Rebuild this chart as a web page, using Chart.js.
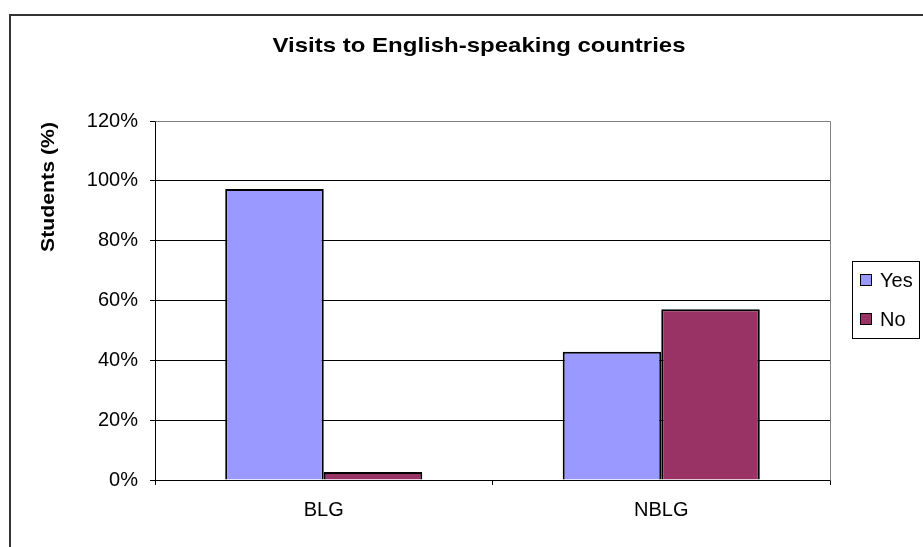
<!DOCTYPE html>
<html>
<head>
<meta charset="utf-8">
<script src="https://cdn.jsdelivr.net/npm/chart.js@4.4.1/dist/chart.umd.min.js"></script>
<style>
html,body{margin:0;padding:0;background:#fff;overflow:hidden;}
#wrap{width:923px;height:547px;position:relative;}
</style>
</head>
<body>
<div id="wrap"><canvas id="c" width="923" height="547"></canvas></div>
<script>
const chartTitle = 'Visits to English-speaking countries';
const yAxisTitle = 'Students (%)';
const categories = ['BLG', 'NBLG'];
const seriesNames = ['Yes', 'No'];
const yesValues = [97.3, 42.9];
const noValues = [2.7, 57.1];
const yTicks = [0, 20, 40, 60, 80, 100, 120];
const colors = ['#9999FF', '#993366'];

const FONT = '"Liberation Sans", Arial, sans-serif';

function stretchedText(ctx, text, x, y, targetWidth) {
  const w = ctx.measureText(text).width;
  const sx = targetWidth / w;
  ctx.save();
  ctx.translate(x, y);
  ctx.scale(sx, 1);
  ctx.fillText(text, 0, 0);
  ctx.restore();
}

const decor = {
  id: 'decor',
  afterDraw(chart) {
    const ctx = chart.ctx;
    const a = chart.chartArea;
    ctx.save();
    // outer frame
    ctx.strokeStyle = '#333';
    ctx.lineWidth = 2;
    ctx.strokeRect(10, 15, 960, 600);
    // plot area top/right border
    ctx.strokeStyle = '#808080';
    ctx.lineWidth = 1;
    ctx.beginPath();
    ctx.moveTo(Math.round(a.left) + 0.5, Math.round(a.top) + 0.5);
    ctx.lineTo(Math.round(a.right) + 0.5, Math.round(a.top) + 0.5);
    ctx.lineTo(Math.round(a.right) + 0.5, Math.round(a.bottom) + 0.5);
    ctx.stroke();
    // title
    ctx.fillStyle = '#000';
    ctx.font = 'bold 21px ' + FONT;
    ctx.textAlign = 'center';
    ctx.textBaseline = 'middle';
    stretchedText(ctx, chartTitle, 479, 46, 413);
    // y title
    ctx.save();
    ctx.translate(49, 187);
    ctx.rotate(-Math.PI / 2);
    ctx.font = 'bold 19px ' + FONT;
    stretchedText(ctx, yAxisTitle, 0, 0, 130);
    ctx.restore();
    // legend
    ctx.strokeStyle = '#000';
    ctx.lineWidth = 1;
    ctx.strokeRect(852.5, 261.5, 67, 77);
    ctx.font = '20px ' + FONT;
    ctx.textAlign = 'left';
    chart.data.datasets.forEach((ds, i) => {
      const y = 280 + i * 39;
      ctx.fillStyle = ds.backgroundColor;
      ctx.fillRect(861, y - 5, 10, 10);
      ctx.strokeRect(860.5, y - 5.5, 11, 11);
      ctx.fillStyle = '#000';
      ctx.fillText(ds.label, 880, y + 1);
    });
    ctx.restore();
  }
};

new Chart(document.getElementById('c'), {
  type: 'bar',
  data: {
    labels: categories,
    datasets: [
      { label: seriesNames[0], data: yesValues, backgroundColor: colors[0], borderColor: '#000', borderWidth: 2 },
      { label: seriesNames[1], data: noValues, backgroundColor: colors[1], borderColor: '#000', borderWidth: 2 }
    ]
  },
  options: {
    responsive: false,
    animation: false,
    layout: { padding: { left: 0, right: 93, top: 121, bottom: 0 } },
    plugins: { legend: { display: false }, title: { display: false }, tooltip: { enabled: false } },
    datasets: { bar: { categoryPercentage: 0.584, barPercentage: 1.0 } },
    scales: {
      x: {
        grid: { display: true, drawOnChartArea: false, drawTicks: true, tickLength: 5, color: '#000', offset: true },
        border: { display: true, color: '#000', width: 1 },
        ticks: { color: '#000', font: { family: FONT, size: 20 }, padding: 13 },
        afterFit(s) { s.height = 67; }
      },
      y: {
        min: 0, max: 120,
        afterBuildTicks(s) { s.ticks = yTicks.map(v => ({ value: v })); },
        grid: { color: '#000', lineWidth: 1, drawTicks: true, tickLength: 5 },
        border: { display: true, color: '#000', width: 1 },
        ticks: { color: '#000', font: { family: FONT, size: 20 }, padding: 12, callback: v => v + '%' },
        afterFit(s) { s.width = 155; }
      }
    }
  },
  plugins: [decor]
});
</script>
</body>
</html>
